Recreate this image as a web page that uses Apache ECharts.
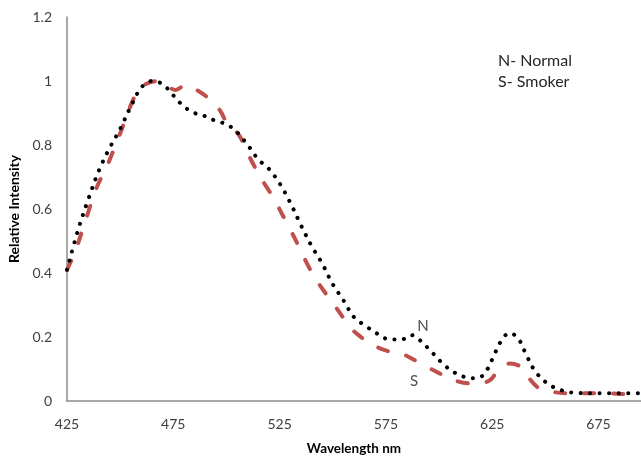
<!DOCTYPE html>
<html>
<head>
<meta charset="utf-8">
<script src="https://cdn.jsdelivr.net/npm/echarts@6/dist/echarts.min.js"></script>
<style>
  html, body { margin: 0; padding: 0; background: #fff; }
  #chart { width: 641px; height: 456px; }
</style>
</head>
<body>
<div id="chart"></div>
<script>
// Emission spectra, normalised to peak = 1
const normalNm  = [425, 430, 435, 440, 445, 450, 455, 460, 465, 470, 475, 480, 485, 490, 495, 500, 505, 510, 515, 520, 525, 530, 535, 540, 545, 550, 555, 560, 566, 571, 575, 580, 583, 587, 591, 597, 602, 607, 612, 617, 621, 625, 629, 633, 637, 641, 645, 650, 655, 662, 675, 695];
const normalRel = [0.41, 0.53, 0.63, 0.72, 0.79, 0.85, 0.92, 0.98, 1.0, 0.99, 0.955, 0.92, 0.9, 0.89, 0.875, 0.865, 0.84, 0.8, 0.755, 0.725, 0.68, 0.62, 0.55, 0.485, 0.43, 0.365, 0.315, 0.262, 0.232, 0.21, 0.195, 0.192, 0.193, 0.206, 0.19, 0.15, 0.115, 0.09, 0.075, 0.071, 0.082, 0.13, 0.185, 0.212, 0.198, 0.145, 0.095, 0.06, 0.04, 0.027, 0.024, 0.024];

const smokerNm  = [425, 429, 434, 439, 444, 450, 455, 459, 464, 468, 472, 476, 481, 486, 491, 497, 500, 506, 511, 516, 522, 526, 529, 533, 536, 540, 544, 549, 553.5, 558, 564, 571, 578, 582, 586, 592, 600, 607, 614, 620, 624, 628, 633, 638, 642, 647, 655, 663, 678, 695];
const smokerRel = [0.41, 0.47, 0.57, 0.668, 0.737, 0.836, 0.924, 0.977, 0.996, 1.0, 0.984, 0.972, 0.988, 0.972, 0.949, 0.908, 0.871, 0.83, 0.761, 0.699, 0.636, 0.586, 0.549, 0.497, 0.455, 0.403, 0.361, 0.315, 0.274, 0.231, 0.196, 0.168, 0.152, 0.149, 0.137, 0.115, 0.087, 0.065, 0.055, 0.056, 0.065, 0.096, 0.117, 0.109, 0.074, 0.04, 0.027, 0.024, 0.024, 0.018];

const xTickLabels = [425, 475, 525, 575, 625, 675];
const curveTags   = ['N', 'S'];
const tagNm       = [592.5, 588.3];
const tagRel      = [0.233, 0.062];
const keyLines    = ['N- Normal', 'S- Smoker'];

const FONT = 'Lato, "Open Sans", sans-serif';

const pairs = (xs, ys) => xs.map((x, i) => [x, ys[i]]);

const chart = echarts.init(document.getElementById('chart'), null, { renderer: 'canvas' });

chart.setOption({
  animation: false,
  backgroundColor: '#ffffff',
  grid: { left: 67, right: 0, top: 17, bottom: 55, containLabel: false, outerBoundsMode: 'none' },
  xAxis: {
    type: 'value',
    min: 425,
    max: 695,
    interval: 50,
    name: 'Wavelength nm',
    nameLocation: 'middle',
    nameGap: 41,
    nameTextStyle: { fontFamily: FONT, fontWeight: 'bold', fontSize: 13.5, color: '#000' },
    axisLine: { show: true, lineStyle: { color: '#8c8c8c', width: 1.5 } },
    axisTick: { show: false },
    splitLine: { show: false },
    axisLabel: {
      margin: 16,
      fontFamily: FONT, fontSize: 14, color: '#404040',
      formatter: v => (xTickLabels.includes(v) ? String(v) : '')
    }
  },
  yAxis: {
    type: 'value',
    min: 0,
    max: 1.2,
    interval: 0.2,
    name: 'Relative Intensity',
    nameLocation: 'middle',
    nameGap: 39,
    nameTextStyle: { fontFamily: FONT, fontWeight: 'bold', fontSize: 14, color: '#000' },
    axisLine: { show: true, lineStyle: { color: '#8c8c8c', width: 1.5 } },
    axisTick: { show: false },
    splitLine: { show: false },
    axisLabel: { margin: 15, fontFamily: FONT, fontSize: 14, color: '#404040' }
  },
  series: [
    {
      name: 'Smoker',
      type: 'line',
      data: pairs(smokerNm, smokerRel),
      smooth: 0.3,
      showSymbol: false,
      lineStyle: { color: '#c0504d', width: 4, type: [10, 19], cap: 'round' },
      z: 2
    },
    {
      name: 'Normal',
      type: 'line',
      data: pairs(normalNm, normalRel),
      smooth: 0.35,
      showSymbol: false,
      lineStyle: { color: '#000000', width: 4, type: [0.1, 9.4], cap: 'round' },
      z: 3
    },
    {
      name: 'tags',
      type: 'scatter',
      symbolSize: 1,
      itemStyle: { color: 'rgba(0,0,0,0)' },
      silent: true,
      data: curveTags.map((t, i) => ({ name: t, value: [tagNm[i], tagRel[i]] })),
      label: {
        show: true,
        position: 'inside',
        formatter: p => p.name,
        fontFamily: FONT, fontSize: 15, color: '#222'
      },
      z: 4
    }
  ],
  graphic: [
    {
      type: 'text',
      left: 498,
      top: 50,
      style: {
        text: keyLines.join('\n'),
        font: '16px ' + FONT,
        lineHeight: 21,
        fill: '#262626'
      }
    }
  ]
});
</script>
</body>
</html>
